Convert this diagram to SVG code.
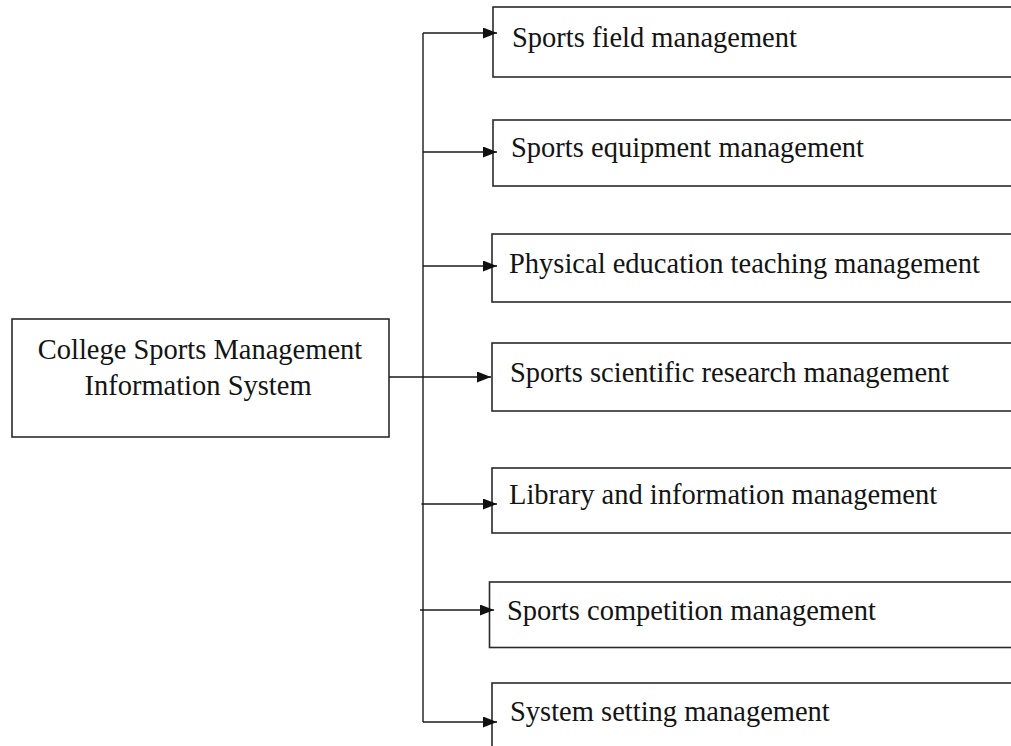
<svg xmlns="http://www.w3.org/2000/svg" width="1011" height="746" viewBox="0 0 1011 746">
<style>
.box{fill:#fff;stroke:#2a2a2a;stroke-width:1.6}
.lbl{font-family:"Liberation Serif","Times New Roman",serif;font-size:28.5px;fill:#141414}
.ln{fill:none;stroke:#1a1a1a;stroke-width:1.4}
</style>
<defs>
<marker id="arr" markerUnits="userSpaceOnUse" markerWidth="15" markerHeight="12" refX="14" refY="5.5" orient="auto">
<path d="M0,0 L14,5.5 L0,11 Z" fill="#111"/>
</marker>
</defs>
<rect width="1011" height="746" fill="#fff"/>
<g id="root">
<rect class="box" x="12" y="319" width="377" height="118"/>
<text class="lbl" x="200" y="359" text-anchor="middle">College Sports Management</text>
<text class="lbl" x="198" y="395" text-anchor="middle">Information System</text>
</g>
<g id="n1"><rect class="box" x="493" y="7" width="530" height="70"/><text class="lbl" x="512" y="47">Sports field management</text></g>
<g id="n2"><rect class="box" x="493" y="120" width="530" height="66"/><text class="lbl" x="511" y="157">Sports equipment management</text></g>
<g id="n3"><rect class="box" x="492" y="234" width="530" height="68"/><text class="lbl" x="509" y="273">Physical education teaching management</text></g>
<g id="n4"><rect class="box" x="492" y="343" width="530" height="68"/><text class="lbl" x="510" y="382">Sports scientific research management</text></g>
<g id="n5"><rect class="box" x="492" y="468" width="530" height="65"/><text class="lbl" x="509" y="504">Library and information management</text></g>
<g id="n6"><rect class="box" x="489.5" y="582" width="530" height="65.5"/><text class="lbl" x="507" y="620">Sports competition management</text></g>
<g id="n7"><rect class="box" x="492" y="683" width="530" height="80"/><text class="lbl" x="510" y="721">System setting management</text></g>
<g id="connectors">
<path class="ln" d="M423,33 V722"/>
<path class="ln" d="M423,33 H497" marker-end="url(#arr)"/>
<path class="ln" d="M423,152 H497" marker-end="url(#arr)"/>
<path class="ln" d="M423,266 H497" marker-end="url(#arr)"/>
<path class="ln" d="M389,377 H491" marker-end="url(#arr)"/>
<path class="ln" d="M421.5,504 H497" marker-end="url(#arr)"/>
<path class="ln" d="M420,610 H494" marker-end="url(#arr)"/>
<path class="ln" d="M423,722 H497" marker-end="url(#arr)"/>
</g>
</svg>
